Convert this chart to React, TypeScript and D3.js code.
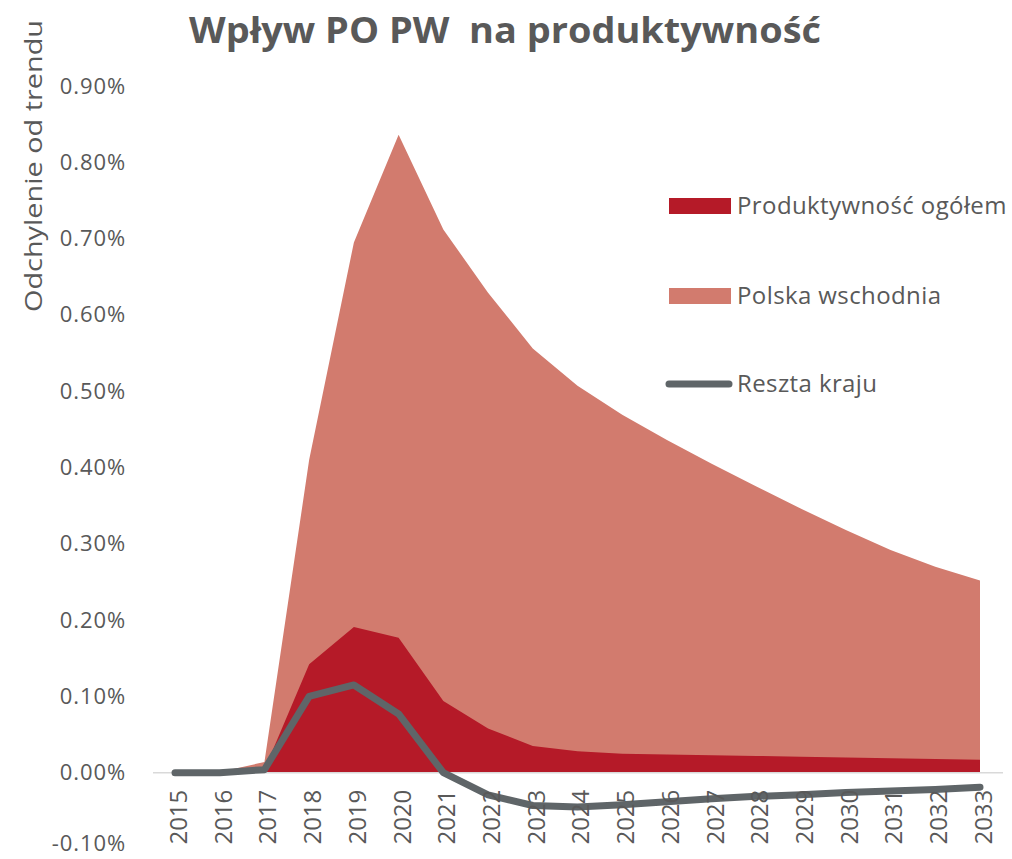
import React, { useEffect, useRef } from 'react';
import * as d3 from 'd3';

const years = ['2015', '2016', '2017', '2018', '2019', '2020', '2021', '2022', '2023', '2024',
  '2025', '2026', '2027', '2028', '2029', '2030', '2031', '2032', '2033'];

// values in percent
const polskaWschodnia = [0, 0.001, 0.014, 0.41, 0.695, 0.836, 0.712, 0.629, 0.556, 0.507,
  0.469, 0.436, 0.405, 0.375, 0.346, 0.318, 0.292, 0.27, 0.252];
const produktywnosc = [0, 0, 0.004, 0.142, 0.191, 0.177, 0.094, 0.058, 0.035, 0.028,
  0.025, 0.024, 0.023, 0.022, 0.021, 0.02, 0.019, 0.018, 0.017];
const resztaKraju = [0, 0, 0.004, 0.1, 0.115, 0.077, 0, -0.029, -0.043, -0.045,
  -0.042, -0.038, -0.034, -0.031, -0.029, -0.026, -0.024, -0.022, -0.019];

const yTicks = [-0.1, 0, 0.1, 0.2, 0.3, 0.4, 0.5, 0.6, 0.7, 0.8, 0.9];

const legendItems = [
  { label: 'Produktywność ogółem', color: '#b51a28', type: 'rect' },
  { label: 'Polska wschodnia', color: '#d27b6e', type: 'rect' },
  { label: 'Reszta kraju', color: '#5f6568', type: 'line' },
];

const W = 1012;
const H = 859;
const textColor = '#595959';

const App = () => {
  const ref = useRef<SVGSVGElement>(null);

  useEffect(() => {
    document.body.style.margin = '0';
    const svg = d3.select(ref.current);
    svg.selectAll('*').remove();

    const x = d3.scalePoint<string>().domain(years).range([175, 980]);
    const y = d3.scaleLinear().domain([-0.1, 0.9]).range([849, 86]);

    const area = (vals: number[]) =>
      d3.area<number>()
        .x((_, i) => x(years[i]) as number)
        .y0(y(0))
        .y1(d => y(d))(vals);

    svg.append('path').attr('d', area(polskaWschodnia)).attr('fill', '#d27b6e');
    svg.append('path').attr('d', area(produktywnosc)).attr('fill', '#b51a28');

    // zero line
    svg.append('line')
      .attr('x1', 153).attr('x2', 1003)
      .attr('y1', y(0)).attr('y2', y(0))
      .attr('stroke', '#d9d9d9').attr('stroke-width', 1.5);

    const line = d3.line<number>()
      .x((_, i) => x(years[i]) as number)
      .y(d => y(d));
    svg.append('path')
      .attr('d', line(resztaKraju))
      .attr('fill', 'none')
      .attr('stroke', '#5f6568')
      .attr('stroke-width', 7)
      .attr('stroke-linecap', 'round')
      .attr('stroke-linejoin', 'round');

    // y axis labels
    const yAxis = svg.append('g')
      .attr('transform', 'translate(130,0)')
      .call(d3.axisLeft(y).tickValues(yTicks).tickSize(0).tickPadding(4)
        .tickFormat(d => (d as number).toFixed(2) + '%'));
    yAxis.select('.domain').remove();
    yAxis.selectAll('text')
      .attr('fill', textColor)
      .attr('font-family', 'Open Sans')
      .attr('font-size', 22)
      .attr('letter-spacing', 0.9);
    yAxis.selectAll<SVGTextElement, number>('text')
      .filter(d => d < 0)
      .attr('dy', '0.08em');

    // x axis labels (rotated, at zero line)
    const xAxis = svg.append('g')
      .attr('transform', `translate(0,${y(0)})`)
      .call(d3.axisBottom(x).tickSize(0));
    xAxis.select('.domain').remove();
    xAxis.selectAll('text')
      .attr('fill', textColor)
      .attr('font-family', 'Open Sans')
      .attr('font-size', 24)
      .attr('text-anchor', 'end')
      .attr('dy', '0.35em')
      .attr('transform', 'translate(0,17) rotate(-90)');

    // title
    svg.append('text')
      .attr('x', 505).attr('y', 43)
      .attr('text-anchor', 'middle')
      .attr('font-family', 'Open Sans')
      .attr('font-weight', 'bold')
      .attr('font-size', 36)
      .attr('fill', textColor)
      .attr('textLength', 632)
      .attr('lengthAdjust', 'spacingAndGlyphs')
      .style('white-space', 'pre')
      .text('Wpływ PO PW  na produktywność');

    // y axis title
    svg.append('text')
      .attr('transform', 'translate(42,166) rotate(-90)')
      .attr('text-anchor', 'middle')
      .attr('font-family', 'Open Sans')
      .attr('font-size', 24)
      .attr('fill', textColor)
      .attr('textLength', 292)
      .attr('lengthAdjust', 'spacingAndGlyphs')
      .text('Odchylenie od trendu');

    // legend
    const legendY = [206, 296, 384];
    const lg = svg.append('g');
    legendItems.forEach((item, i) => {
      const cy = legendY[i];
      if (item.type === 'rect') {
        lg.append('rect')
          .attr('x', 669).attr('y', cy - 8)
          .attr('width', 62).attr('height', 16)
          .attr('fill', item.color);
      } else {
        lg.append('line')
          .attr('x1', 669).attr('x2', 729)
          .attr('y1', cy).attr('y2', cy)
          .attr('stroke', item.color).attr('stroke-width', 7)
          .attr('stroke-linecap', 'round');
      }
      lg.append('text')
        .attr('x', 737).attr('y', cy)
        .attr('dy', '0.35em')
        .attr('font-family', 'Open Sans')
        .attr('font-size', 24)
        .attr('letter-spacing', 0.4)
        .attr('fill', textColor)
        .text(item.label);
    });
  }, []);

  return (
    <svg ref={ref} width={W} height={H} style={{ display: 'block' }}></svg>
  );
};

export default App;
